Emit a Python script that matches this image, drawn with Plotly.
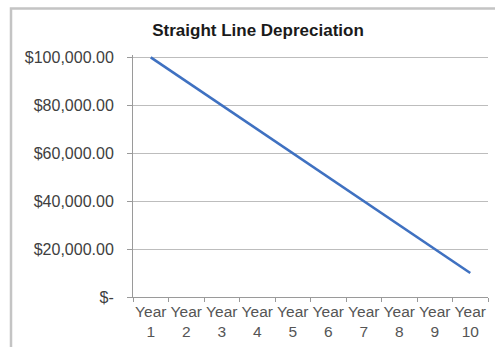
import plotly.graph_objects as go

# Straight-line depreciation schedule
years = ["Year<br>1", "Year<br>2", "Year<br>3", "Year<br>4", "Year<br>5",
         "Year<br>6", "Year<br>7", "Year<br>8", "Year<br>9", "Year<br>10"]
book_value = [100000, 90000, 80000, 70000, 60000, 50000, 40000, 30000, 20000, 10000]

y_tick_vals = [0, 20000, 40000, 60000, 80000, 100000]
y_tick_text = ["$-", "$20,000.00", "$40,000.00", "$60,000.00", "$80,000.00", "$100,000.00"]

W, H = 495, 347
L, R, T, B = 133, 7, 55, 50
pw, ph = W - L - R, H - T - B

fig = go.Figure()
fig.add_trace(go.Scatter(
    x=years, y=book_value, mode="lines",
    line=dict(color="#3f71c1", width=2.6),
    showlegend=False, hoverinfo="skip",
))

# Outer chart frame (partly off the page on the right and bottom)
fx0 = (11 - L) / pw
fy1 = 1 + (T - 8.5) / ph
fig.add_shape(type="rect", xref="paper", yref="paper",
              x0=fx0, x1=1.2, y0=-0.6, y1=fy1,
              line=dict(color="#c4c4c4", width=2.5), layer="below")

fig.update_layout(
    width=W, height=H,
    margin=dict(l=L, r=R, t=T, b=B),
    paper_bgcolor="white", plot_bgcolor="white",
    font=dict(family="Liberation Sans, Arial, sans-serif", color="#4a4a4a"),
    title=dict(text="<b>Straight Line Depreciation</b>",
               xref="container", yref="container",
               x=258 / W, xanchor="center",
               y=1 - 30 / H, yanchor="middle",
               font=dict(size=17, color="#1a1a1a")),
    xaxis=dict(
        type="category", range=[-0.5, 9.5],
        showline=True, linecolor="#9a9a9a", linewidth=1,
        ticks="outside", tickson="boundaries", ticklen=4, tickcolor="#9a9a9a",
        showgrid=False, tickangle=0,
        tickfont=dict(size=15.5, color="#555555"),
        fixedrange=True,
    ),
    yaxis=dict(
        range=[0, 101000],
        tickvals=y_tick_vals, ticktext=y_tick_text,
        showline=True, linecolor="#9a9a9a", linewidth=1,
        ticks="outside", ticklen=5, tickcolor="#9a9a9a",
        ticklabelstandoff=10,
        showgrid=True, gridcolor="#bdbdbd", gridwidth=1,
        zeroline=False,
        tickfont=dict(size=16, color="#404040"),
        fixedrange=True,
    ),
)

fig.write_html("out.html")
